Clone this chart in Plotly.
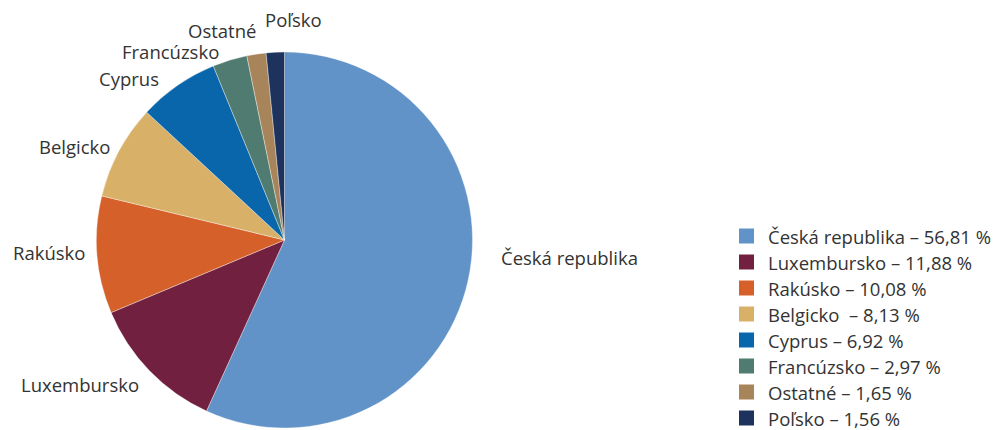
import plotly.graph_objects as go

# Share of each country, in percent (clockwise from 12 o'clock)
countries = ["Česká republika", "Luxembursko", "Rakúsko", "Belgicko",
             "Cyprus", "Francúzsko", "Ostatné", "Poľsko"]
shares = [56.81, 11.88, 10.08, 8.13, 6.92, 2.97, 1.65, 1.56]
legend_texts = ["Česká republika – 56,81 %", "Luxembursko – 11,88 %",
                "Rakúsko – 10,08 %", "Belgicko  – 8,13 %", "Cyprus – 6,92 %",
                "Francúzsko – 2,97 %", "Ostatné – 1,65 %", "Poľsko – 1,56 %"]
colors = ["#6193C8", "#72203F", "#D6602A", "#D8B068",
          "#0A66AA", "#4F7B70", "#A8845A", "#1D335E"]

W, H = 995, 430
FONT = "Open Sans"
FS = 18.5
TEXT_COLOR = "#333333"

# pie geometry in pixels
cx, cy, r = 284.5, 240, 188

fig = go.Figure(go.Pie(
    labels=countries,
    values=shares,
    sort=False,
    direction="clockwise",
    rotation=0,
    marker=dict(colors=colors, line=dict(color="rgba(255,255,255,0.6)", width=0.6)),
    textinfo="none",
    hoverinfo="label+percent",
    showlegend=False,
    domain=dict(x=[(cx - r) / W, (cx + r) / W],
                y=[(H - cy - r) / H, (H - cy + r) / H]),
))

# outside slice labels: (left x, center y) in pixels
label_pos = [(500, 257), (20, 384), (12, 252), (38, 146),
             (98, 78), (121, 51), (187, 30), (264, 20)]
annotations = []
for name, (lx, ly) in zip(countries, label_pos):
    annotations.append(dict(
        x=lx / W, y=1 - ly / H, xref="paper", yref="paper",
        text=name, showarrow=False, xanchor="left", yanchor="middle",
        font=dict(family=FONT, size=FS, color=TEXT_COLOR),
        borderpad=0,
    ))

# legend: colored squares with text
shapes = []
leg_x0, leg_y0, leg_step, box = 739, 236.0, 26.0, 15
for i, (txt, col) in enumerate(zip(legend_texts, colors)):
    yc = leg_y0 + i * leg_step
    shapes.append(dict(
        type="rect", xref="paper", yref="paper",
        x0=leg_x0 / W, x1=(leg_x0 + box) / W,
        y0=1 - (yc + box / 2) / H, y1=1 - (yc - box / 2) / H,
        fillcolor=col, line=dict(width=0),
    ))
    annotations.append(dict(
        x=767 / W, y=1 - yc / H, xref="paper", yref="paper",
        text=txt, showarrow=False, xanchor="left", yanchor="middle",
        font=dict(family=FONT, size=FS, color=TEXT_COLOR),
        borderpad=0,
    ))

fig.update_layout(
    width=W, height=H,
    margin=dict(l=0, r=0, t=0, b=0),
    paper_bgcolor="white", plot_bgcolor="white",
    annotations=annotations, shapes=shapes,
    font=dict(family=FONT, color=TEXT_COLOR),
)

fig.write_html("out.html")
